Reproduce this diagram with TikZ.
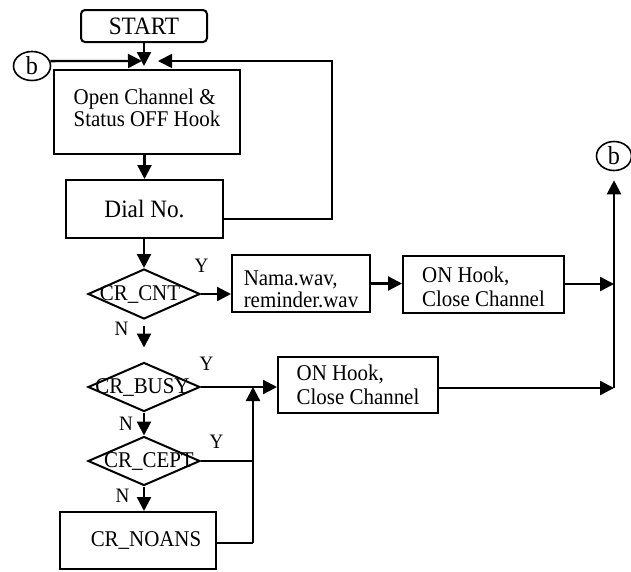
\documentclass[tikz,border=0pt]{standalone}
\usepackage{fontspec}
\setmainfont{Liberation Serif}[FakeStretch=0.93]
\usetikzlibrary{shapes.geometric,arrows.meta}
\begin{document}
\begin{tikzpicture}[x=1pt,y=-1pt,
  every node/.style={font=\fontsize{22.5}{24}\selectfont, inner sep=0pt},
  box/.style={draw, rectangle, line width=2pt},
  dia/.style={draw, diamond, line width=2pt, inner sep=0pt, minimum width=112pt, minimum height=50pt},
  conn/.style={draw, ellipse, line width=1.6pt, minimum width=37pt, minimum height=29pt, font=\fontsize{26}{26}\selectfont},
  arr/.style={line width=2.3pt, -{Triangle[length=14pt,width=14pt]}},
  ln/.style={line width=1.4pt},
  yn/.style={font=\fontsize{20.5}{20.5}\selectfont}]
\useasboundingbox (0,0) rectangle (631,571);

% nodes
\node[box, rounded corners=4pt, minimum width=126pt, minimum height=32pt, font=\fontsize{25}{25}\selectfont] (start) at (144,26) {START};
\node[conn] (bL) at (32,66) {b};
\node[box, minimum width=186pt, minimum height=84pt,
  label={[align=left, yshift=4pt, font=\fontsize{22.5}{19.5}\selectfont]center:{Open Channel \&\\Status OFF Hook}}] (open) at (147,112) {};
\node[box, minimum width=157pt, minimum height=58pt, font=\fontsize{25}{25}\selectfont] (dial) at (144.5,209) {Dial No.};
\node[dia, label={[xshift=-4pt]center:{CR\_CNT}}] (cnt) at (144,294) {};
\node[box, minimum width=138pt, minimum height=57pt,
  label={[align=left, yshift=-6pt, font=\fontsize{22.5}{22.3}\selectfont]center:{Nama.wav,\\reminder.wav}}] (nama) at (301,283.5) {};
\node[box, minimum width=161pt, minimum height=57pt,
  label={[align=left, yshift=-2.5pt, font=\fontsize{22.5}{24.5}\selectfont]center:{ON Hook,\\Close Channel}}] (on1) at (483.5,284.5) {};
\node[dia, minimum height=49pt, label={[xshift=-1.5pt]center:{CR\_BUSY}}] (busy) at (144,387) {};
\node[box, minimum width=160pt, minimum height=56pt,
  label={[align=left, font=\fontsize{22.5}{24.5}\selectfont]center:{ON Hook,\\Close Channel}}] (on2) at (358,385) {};
\node[dia, minimum height=49pt, label={[xshift=5pt]center:{CR\_CEPT}}] (cept) at (144,461) {};
\node[box, minimum width=156pt, minimum height=57pt, label={[xshift=8pt]center:{CR\_NOANS}}] (noans) at (138,540.5) {};
\node[conn, minimum width=35pt] (bR) at (614,156) {b};

% Y / N labels
\node[yn] (y1) at (201.5,265.5) {Y};
\node[yn] (n1) at (121.5,329) {N};
\node[yn] (y2) at (206.5,363.5) {Y};
\node[yn] (n2) at (126,423.5) {N};
\node[yn] (y3) at (216.5,442) {Y};
\node[yn] (n3) at (122.5,496) {N};

% junction coordinates
\coordinate (in1) at (144,66);
\coordinate (inB) at (142,61);
\coordinate (inR) at (158,61);
\coordinate (r1) at (332,219);
\coordinate (m1) at (614,284);
\coordinate (m2) at (614,388);
\coordinate (v1) at (253,543);
\coordinate (v2) at (253,387);
\coordinate (c1) at (253,461);

% connectors
\draw[arr] (start.south -| in1) -- (in1);
\draw[arr] (bL.15) -- (inB);
\draw[arr, line width=1.7pt] (r1 -| dial.east) -- (r1) |- (inR);
\draw[arr] (open.south -| dial.north) -- (dial.north);
\draw[arr] (dial.south -| cnt.north) -- (cnt.north);
\draw[arr] (cnt.east) -- (cnt.east -| nama.west);
\draw[arr] (nama.east) -- (nama.east -| on1.west);
\draw[arr] (on1.east |- m1) -- (m1);
\draw[arr, shorten <=6pt, shorten >=14pt] (cnt.south) -- (busy.north);
\draw[arr] (busy.east) -- (busy.east -| on2.west);
\draw[arr] (busy.south) -- (cept.north);
\draw[ln] (cept.east) -- (c1);
\draw[arr] (cept.south) -- (cept.south |- noans.north);
\draw[line width=1.7pt] (noans.east |- v1) -- (v1);
\draw[arr] (v1) -- (v2);
\draw[arr] (m2 -| on2.east) -- (m2);
\draw[arr, shorten >=9pt] (m2) -- (bR.south);
\end{tikzpicture}
\end{document}
